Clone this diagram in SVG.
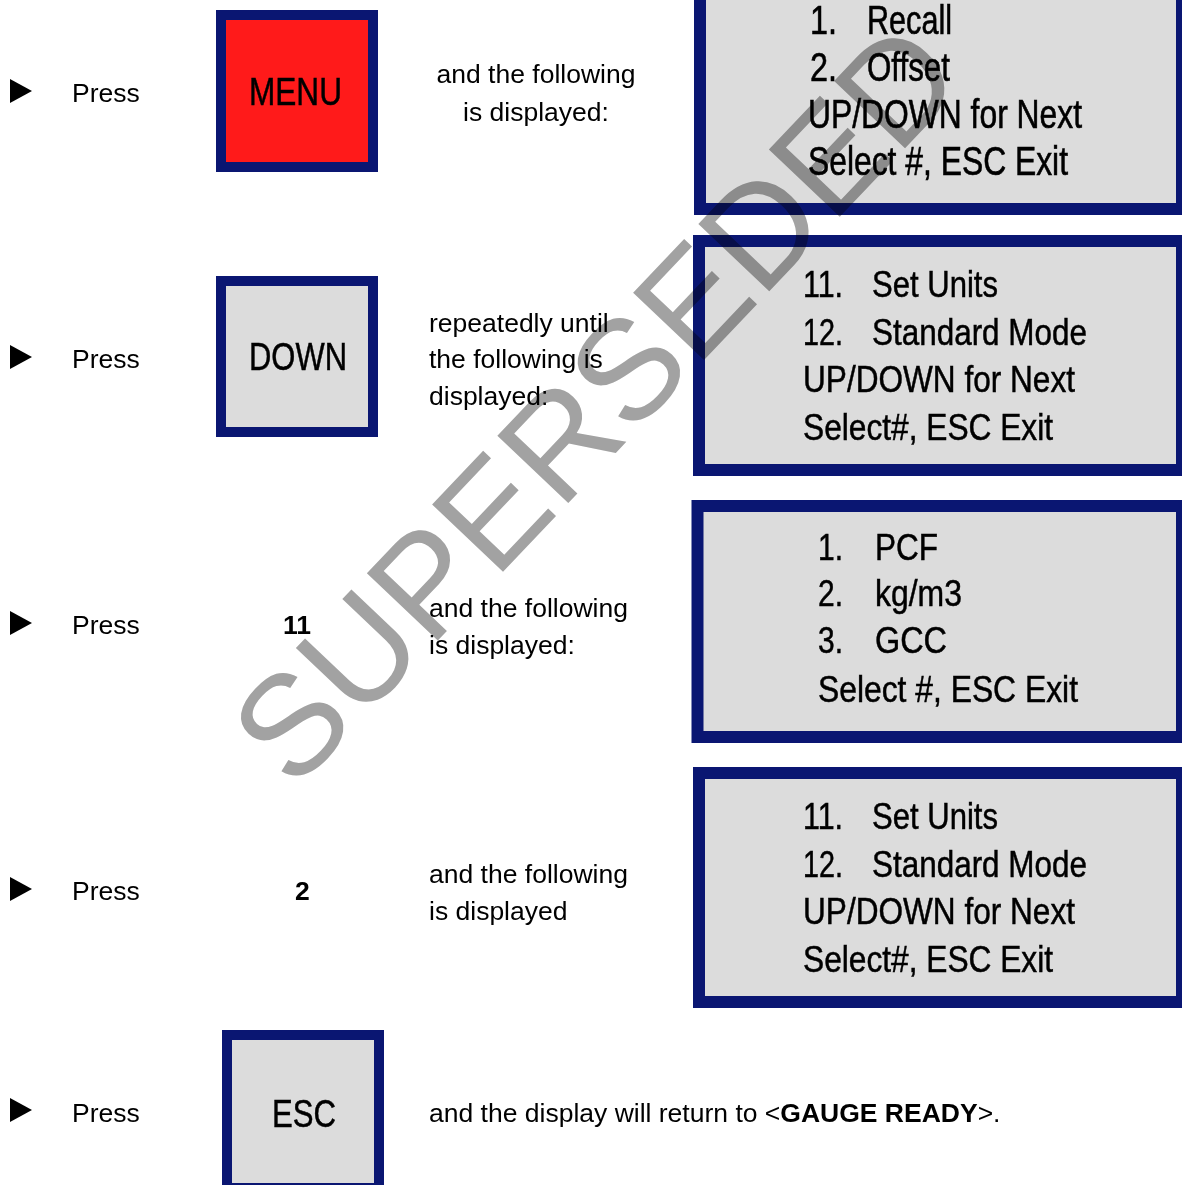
<svg xmlns="http://www.w3.org/2000/svg" width="1182" height="1185" viewBox="0 0 1182 1185">
<style>
.t{font-family:"Liberation Sans",Arial,sans-serif;font-size:26.5px;fill:#000}
.b{font-weight:bold}
.key{stroke:#0A1672;stroke-width:10}
.lcd{fill:#DCDCDC;stroke:#0A1672;stroke-width:12}
.kt{font-family:"Liberation Sans",Arial,sans-serif;font-size:39px;fill:#000;stroke:#000;stroke-width:0.5}
.l1{font-family:"Liberation Sans",Arial,sans-serif;font-size:40px;fill:#000;stroke:#000;stroke-width:0.6}
.l2{font-family:"Liberation Sans",Arial,sans-serif;font-size:37px;fill:#000;stroke:#000;stroke-width:0.5}
.wm{font-family:"Liberation Sans",Arial,sans-serif;font-size:142px;fill:#A2A2A2;mix-blend-mode:multiply}
</style>
<defs>
<polygon id="bullet" points="10,-12 32,0 10,12" fill="#000"/>
</defs>
<rect width="1182" height="1185" fill="#fff"/>
<g id="connectors"/>

<g id="step1">
<use href="#bullet" y="91"/>
<text class="t" x="72" y="102">Press</text>
<g id="key-menu">
<rect class="key" x="221" y="15" width="152" height="152" fill="#FF1A1A"/>
<text class="kt" x="249" y="105" textLength="93" lengthAdjust="spacingAndGlyphs">MENU</text>
</g>
<text class="t" x="536" y="83" text-anchor="middle">and the following</text>
<text class="t" x="536" y="121" text-anchor="middle">is displayed:</text>
<g id="lcd1">
<rect class="lcd" x="700" y="-20" width="482" height="229"/>
<text class="l1" x="810" y="34" textLength="27" lengthAdjust="spacingAndGlyphs">1.</text>
<text class="l1" x="867" y="34" textLength="85" lengthAdjust="spacingAndGlyphs">Recall</text>
<text class="l1" x="810" y="81" textLength="27" lengthAdjust="spacingAndGlyphs">2.</text>
<text class="l1" x="867" y="81" textLength="83" lengthAdjust="spacingAndGlyphs">Offset</text>
<text class="l1" x="808" y="128" textLength="274" lengthAdjust="spacingAndGlyphs">UP/DOWN for Next</text>
<text class="l1" x="808" y="175" textLength="260" lengthAdjust="spacingAndGlyphs">Select #, ESC Exit</text>
</g>
</g>

<g id="step2">
<use href="#bullet" y="357"/>
<text class="t" x="72" y="368">Press</text>
<g id="key-down">
<rect class="key" x="221" y="281" width="152" height="151" fill="#DCDCDC"/>
<text class="kt" x="249" y="370" textLength="98" lengthAdjust="spacingAndGlyphs">DOWN</text>
</g>
<text class="t" x="429" y="332">repeatedly until</text>
<text class="t" x="429" y="368">the following is</text>
<text class="t" x="429" y="405">displayed:</text>
<g id="lcd2">
<rect class="lcd" x="699" y="241" width="483" height="229"/>
<text class="l2" x="803" y="297" textLength="40" lengthAdjust="spacingAndGlyphs">11.</text>
<text class="l2" x="872" y="297" textLength="126" lengthAdjust="spacingAndGlyphs">Set Units</text>
<text class="l2" x="803" y="345" textLength="40" lengthAdjust="spacingAndGlyphs">12.</text>
<text class="l2" x="872" y="345" textLength="215" lengthAdjust="spacingAndGlyphs">Standard Mode</text>
<text class="l2" x="803" y="392" textLength="272" lengthAdjust="spacingAndGlyphs">UP/DOWN for Next</text>
<text class="l2" x="803" y="440" textLength="250" lengthAdjust="spacingAndGlyphs">Select#, ESC Exit</text>
</g>
</g>

<g id="step3">
<use href="#bullet" y="623"/>
<text class="t" x="72" y="634">Press</text>
<text class="t b" x="283" y="634">11</text>
<text class="t" x="429" y="617">and the following</text>
<text class="t" x="429" y="654">is displayed:</text>
<g id="lcd3">
<rect class="lcd" x="697.5" y="506" width="484.5" height="231"/>
<text class="l2" x="818" y="560" textLength="25" lengthAdjust="spacingAndGlyphs">1.</text>
<text class="l2" x="875" y="560" textLength="63" lengthAdjust="spacingAndGlyphs">PCF</text>
<text class="l2" x="818" y="606" textLength="25" lengthAdjust="spacingAndGlyphs">2.</text>
<text class="l2" x="875" y="606" textLength="87" lengthAdjust="spacingAndGlyphs">kg/m3</text>
<text class="l2" x="818" y="653" textLength="25" lengthAdjust="spacingAndGlyphs">3.</text>
<text class="l2" x="875" y="653" textLength="72" lengthAdjust="spacingAndGlyphs">GCC</text>
<text class="l2" x="818" y="702" textLength="260" lengthAdjust="spacingAndGlyphs">Select #, ESC Exit</text>
</g>
</g>

<g id="step4">
<use href="#bullet" y="889"/>
<text class="t" x="72" y="900">Press</text>
<text class="t b" x="295" y="900">2</text>
<text class="t" x="429" y="883">and the following</text>
<text class="t" x="429" y="920">is displayed</text>
<g id="lcd4">
<rect class="lcd" x="699" y="773" width="483" height="229"/>
<text class="l2" x="803" y="829" textLength="40" lengthAdjust="spacingAndGlyphs">11.</text>
<text class="l2" x="872" y="829" textLength="126" lengthAdjust="spacingAndGlyphs">Set Units</text>
<text class="l2" x="803" y="877" textLength="40" lengthAdjust="spacingAndGlyphs">12.</text>
<text class="l2" x="872" y="877" textLength="215" lengthAdjust="spacingAndGlyphs">Standard Mode</text>
<text class="l2" x="803" y="924" textLength="272" lengthAdjust="spacingAndGlyphs">UP/DOWN for Next</text>
<text class="l2" x="803" y="972" textLength="250" lengthAdjust="spacingAndGlyphs">Select#, ESC Exit</text>
</g>
</g>

<g id="step5">
<use href="#bullet" y="1110"/>
<text class="t" x="72" y="1122">Press</text>
<g id="key-esc">
<rect class="key" x="227" y="1035" width="152" height="153" fill="#DCDCDC"/>
<text class="kt" x="272" y="1127" textLength="64" lengthAdjust="spacingAndGlyphs">ESC</text>
</g>
<text class="t" x="429" y="1122">and the display will return to &lt;<tspan class="b">GAUGE READY</tspan>&gt;.</text>
</g>

<g id="watermark">
<text class="wm" transform="translate(294,792) rotate(-46.5)">SUPERSEDED</text>
</g>
</svg>
